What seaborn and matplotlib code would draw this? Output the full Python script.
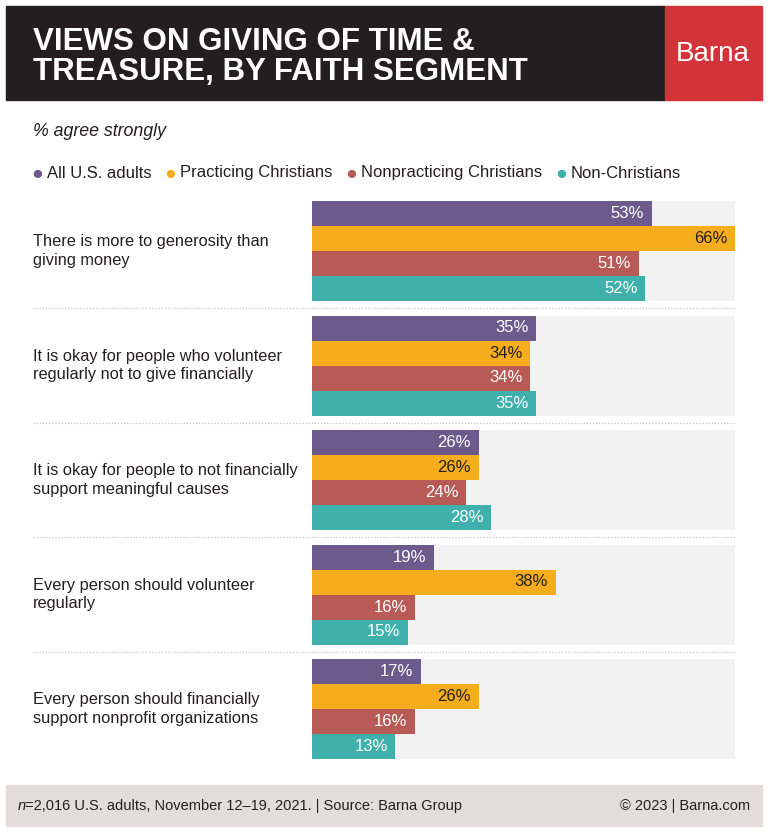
import pandas as pd
import numpy as np
import matplotlib.pyplot as plt
from matplotlib.patches import Rectangle
import seaborn as sns

sns.set_theme(style='white')
plt.rcParams['font.family'] = ['Liberation Sans', 'DejaVu Sans']

# data
statements = ['There is more to generosity than\ngiving money',
              'It is okay for people who volunteer\nregularly not to give financially',
              'It is okay for people to not financially\nsupport meaningful causes',
              'Every person should volunteer\nregularly',
              'Every person should financially\nsupport nonprofit organizations']
segments = ['All U.S. adults', 'Practicing Christians', 'Nonpracticing Christians', 'Non-Christians']
all_adults = [53, 35, 26, 19, 17]
practicing = [66, 34, 26, 38, 26]
nonpracticing = [51, 34, 24, 16, 16]
non_christians = [52, 35, 28, 15, 13]
colors = ['#6d5a8c', '#f5ad1e', '#b85a56', '#3fb0ac']

df = pd.DataFrame({
    'statement': statements * 4,
    'segment': np.repeat(segments, len(statements)),
    'value': all_adults + practicing + nonpracticing + non_christians,
})

W, H = 768, 834
fig = plt.figure(figsize=(W / 100, H / 100), dpi=100)
fig.patch.set_facecolor('white')

def fx(x):
    return x / W

def fy(y):
    return 1 - y / H

# header
fig.patches.append(Rectangle((fx(6), fy(100)), fx(659), 94 / H, transform=fig.transFigure,
                             color='#231f20', zorder=0))
fig.patches.append(Rectangle((fx(665), fy(100)), fx(97), 94 / H, transform=fig.transFigure,
                             color='#d2343a', zorder=0))
fig.text(fx(33), fy(57), 'VIEWS ON GIVING OF TIME &\nTREASURE, BY FAITH SEGMENT', color='white',
         fontsize=22.5, fontweight='bold', va='center', ha='left', linespacing=1.02)
fig.text(fx(713), fy(54), 'Barna', color='white', fontsize=20, va='center', ha='center')

fig.text(fx(33), fy(132), '% agree strongly', fontsize=12.8, style='italic', color='#231f20',
         va='center')

# legend
leg_x = [37, 170, 351, 561]
for x, seg, c in zip(leg_x, segments, colors):
    fig.text(fx(x), fy(174), '\u25cf', color=c, fontsize=14, va='center', ha='center')
    fig.text(fx(x + 10), fy(173), seg, color='#231f20', fontsize=12, va='center')

# bars
ax = fig.add_axes([fx(312), 1 - 766.25 / H, fx(423), 572.5 / H])
half = 100 / 114.5 / 2
for i in range(len(statements)):
    ax.axhspan(i - half, i + half, color='#f2f2f2', zorder=0, lw=0)
sns.barplot(data=df, x='value', y='statement', hue='segment', palette=colors, orient='h',
            width=2 * half, saturation=1, dodge=True, legend=False, ax=ax, zorder=2,
            linewidth=0)
ax.set_xlim(0, 66)
ax.set_ylim(len(statements) - 0.5, -0.5)
ax.axis('off')

for cont, c in zip(ax.containers, colors):
    tc = '#231f20' if c == '#f5ad1e' else 'white'
    for p in cont:
        w = p.get_width()
        ax.text(w - 1.2, p.get_y() + p.get_height() / 2, f'{w:.0f}%', color=tc,
                fontsize=12, ha='right', va='center', zorder=3)

# statements and separators
for i, s in enumerate(statements):
    ax.text(-279 / 423, i, s, transform=ax.get_yaxis_transform(), fontsize=11.8,
            color='#231f20', ha='left', va='center', linespacing=1.3)
    if i < len(statements) - 1:
        ax.plot([-279 / 423, 1], [i + 0.5, i + 0.5], transform=ax.get_yaxis_transform(),
                color='#c8c8c8', lw=0.9, ls=(0, (1, 1.5)), clip_on=False)

# footer
fig.patches.append(Rectangle((fx(6), fy(826)), fx(756), 41 / H, transform=fig.transFigure,
                             color='#e3dcdb', zorder=0))
fig.text(fx(18), fy(806), 'n', style='italic', fontsize=10.5, color='#231f20', va='center')
fig.text(fx(25), fy(806), '=2,016 U.S. adults, November 12\u201319, 2021. | Source: Barna Group',
         fontsize=10.5, color='#231f20', va='center')
fig.text(fx(750), fy(806), '\u00a9 2023 | Barna.com', fontsize=10.5, color='#231f20',
         va='center', ha='right')

fig.savefig('out.png', dpi=100)
